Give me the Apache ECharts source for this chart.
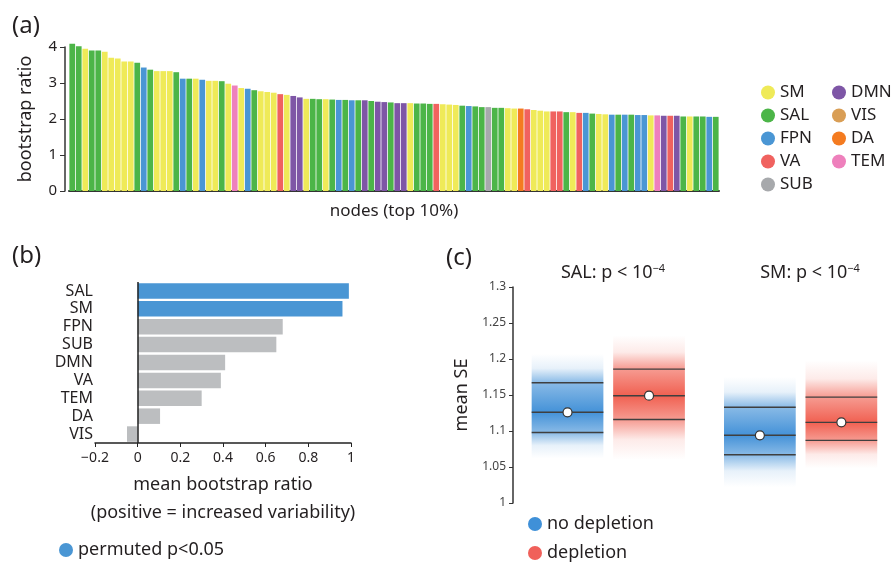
<!DOCTYPE html>
<html lang="en">
<head>
    <meta charset="UTF-8">
    <title>bootstrap ratio figure</title>
    <style>
        html, body { margin: 0; padding: 0; background: #fff; }
        #main { width: 896px; height: 562px; }
    </style>
</head>
<body>
<div id="main"></div>
<script src="https://cdn.jsdelivr.net/npm/echarts@6/dist/echarts.min.js"></script>
<script type="text/javascript">
// (a) top 10% nodes, sorted by bootstrap ratio
var nodeValues = [4.09, 4.02, 3.95, 3.90, 3.90, 3.87, 3.70, 3.68, 3.60, 3.60,
    3.56, 3.43, 3.37, 3.33, 3.33, 3.33, 3.30, 3.12, 3.12, 3.12,
    3.09, 3.06, 3.06, 3.05, 2.98, 2.93, 2.86, 2.84, 2.80, 2.77,
    2.75, 2.73, 2.69, 2.67, 2.64, 2.60, 2.56, 2.56, 2.55, 2.55,
    2.54, 2.53, 2.53, 2.52, 2.52, 2.52, 2.50, 2.48, 2.47, 2.46,
    2.44, 2.44, 2.44, 2.43, 2.43, 2.42, 2.42, 2.41, 2.40, 2.39,
    2.37, 2.36, 2.35, 2.33, 2.33, 2.31, 2.31, 2.30, 2.29, 2.29,
    2.27, 2.25, 2.23, 2.21, 2.21, 2.21, 2.19, 2.19, 2.17, 2.17,
    2.15, 2.14, 2.13, 2.12, 2.12, 2.12, 2.12, 2.11, 2.11, 2.10,
    2.10, 2.09, 2.09, 2.09, 2.07, 2.07, 2.07, 2.07, 2.06, 2.06];
var nodeNetworks = ['SAL', 'SAL', 'SM', 'SAL', 'SAL', 'SM', 'SM', 'SM', 'SM', 'SM',
    'SAL', 'FPN', 'SAL', 'SM', 'SM', 'SM', 'SAL', 'FPN', 'SAL', 'SM',
    'FPN', 'SM', 'SM', 'SAL', 'SM', 'TEM', 'SM', 'FPN', 'SAL', 'SM',
    'SM', 'SM', 'VA', 'SM', 'DMN', 'DMN', 'SM', 'SAL', 'SAL', 'SM',
    'SAL', 'FPN', 'SAL', 'FPN', 'SAL', 'DMN', 'SAL', 'DMN', 'DMN', 'SAL',
    'DMN', 'DMN', 'SM', 'SAL', 'SAL', 'SAL', 'VA', 'SM', 'SM', 'SM',
    'SAL', 'FPN', 'SAL', 'SAL', 'SUB', 'SAL', 'SAL', 'SM', 'SM', 'DA',
    'VA', 'SM', 'SM', 'SM', 'VA', 'VA', 'SAL', 'SM', 'VA', 'FPN',
    'SAL', 'SM', 'SM', 'FPN', 'SAL', 'FPN', 'SAL', 'FPN', 'FPN', 'SM',
    'TEM', 'DMN', 'VA', 'DMN', 'SAL', 'SM', 'SAL', 'SAL', 'FPN', 'SAL'];
var networkNames = ['SM', 'SAL', 'FPN', 'VA', 'SUB', 'DMN', 'VIS', 'DA', 'TEM'];

// (b) mean bootstrap ratio per network
var netCats = ['SAL', 'SM', 'FPN', 'SUB', 'DMN', 'VA', 'TEM', 'DA', 'VIS'];
var netMeans = [0.99, 0.96, 0.68, 0.65, 0.41, 0.39, 0.30, 0.105, -0.05];
var netSignificant = [true, true, false, false, false, false, false, false, false];

// (c) mean SE distributions: [SAL, SM]
var cGroups = ['SAL', 'SM'];
var noDepMean = [1.126, 1.094];
var noDepCiLow = [1.098, 1.067];
var noDepCiHigh = [1.167, 1.133];
var noDepLow = [1.062, 1.022];
var noDepHigh = [1.207, 1.175];
var depMean = [1.149, 1.112];
var depCiLow = [1.116, 1.087];
var depCiHigh = [1.186, 1.147];
var depLow = [1.060, 1.048];
var depHigh = [1.233, 1.198];

var FONT = 'Noto Sans';
var TXT = '#231f20';
var netColors = {
    SM: '#efea58', SAL: '#4cb548', FPN: '#4a96d4', VA: '#f0625f', SUB: '#a7a9ac',
    DMN: '#7e56a6', VIS: '#d99e55', DA: '#f47b20', TEM: '#ee80bc'
};
var blue = '#4a96d4', gray = '#bcbec0';

var chart = echarts.init(document.getElementById('main'));

// panel a: one overlapping bar series per network
var aSeries = networkNames.map(function (n) {
    return {
        type: 'bar', name: n, xAxisIndex: 0, yAxisIndex: 0,
        barWidth: '88%', barGap: '-100%', clip: false,
        itemStyle: {color: netColors[n]},
        data: nodeValues.map(function (v, i) { return nodeNetworks[i] === n ? v : '-'; })
    };
});

// panel c: gradient bands
var cGroupX = [1.5, 3.86];
function cData(mean, lo, hi, eLo, eHi, off) {
    return cGroups.map(function (g, i) {
        return [cGroupX[i] + off, mean[i], lo[i], hi[i], eLo[i], eHi[i]];
    });
}
function bandRenderer(rgb) {
    return function (params, api) {
        var x = api.value(0);
        var top = api.coord([x, api.value(5)]);
        var bot = api.coord([x, api.value(4)]);
        var yHi = api.coord([x, api.value(3)])[1];
        var yLo = api.coord([x, api.value(2)])[1];
        var yM = api.coord([x, api.value(1)])[1];
        var half = api.size([0.44, 0])[0];
        var h = bot[1] - top[1];
        var f = function (y) { return (y - top[1]) / h; };
        var c = function (a) { return 'rgba(' + rgb + ',' + a + ')'; };
        var fill = {
            type: 'linear', x: 0, y: 0, x2: 0, y2: 1,
            colorStops: [
                {offset: 0, color: c(0)},
                {offset: f(yHi) / 2, color: c(0.12)},
                {offset: f(yHi), color: c(0.6)},
                {offset: f(yM), color: c(0.95)},
                {offset: f(yLo), color: c(0.6)},
                {offset: (1 + f(yLo)) / 2, color: c(0.12)},
                {offset: 1, color: c(0)}
            ]
        };
        var ln = function (y) {
            return {type: 'line', shape: {x1: top[0] - half, y1: y, x2: top[0] + half, y2: y},
                style: {stroke: '#3f3f3f', lineWidth: 1.4}};
        };
        return {
            type: 'group',
            children: [
                {type: 'rect', shape: {x: top[0] - half, y: top[1], width: half * 2, height: h}, style: {fill: fill}},
                ln(yHi), ln(yM), ln(yLo),
                {type: 'circle', shape: {cx: top[0], cy: yM, r: 4.5}, style: {fill: '#fff', stroke: '#333', lineWidth: 1.2}}
            ]
        };
    };
}

function legendAt(left, top, names, size, gap) {
    return {
        left: left, top: top, orient: 'vertical', itemGap: gap, itemWidth: 14, itemHeight: 14,
        icon: 'circle', selectedMode: false, data: names,
        textStyle: {fontFamily: FONT, fontSize: size, color: TXT}
    };
}

var option = {
    animation: false,
    backgroundColor: '#fff',
    textStyle: {fontFamily: FONT},
    grid: [
        {left: 69, right: 177, top: 47, bottom: 371},
        {left: 95, right: 545, top: 282, bottom: 119},
        {left: 513, right: 16, top: 287, bottom: 59}
    ],
    xAxis: [
        {
            gridIndex: 0, type: 'category', data: nodeValues.map(function (v, i) { return i + 1; }),
            axisLine: {lineStyle: {color: '#333', width: 2}}, axisTick: {show: false}, axisLabel: {show: false},
            name: 'nodes (top 10%)', nameLocation: 'middle', nameGap: 12,
            nameTextStyle: {fontFamily: FONT, fontSize: 17, color: TXT}
        },
        {
            gridIndex: 1, type: 'value', min: -0.2, max: 1, interval: 0.2,
            splitLine: {show: false},
            axisLine: {show: true, onZero: false, lineStyle: {color: '#222', width: 1.5}},
            axisTick: {show: true, length: 4, lineStyle: {color: '#222'}},
            axisLabel: {fontFamily: FONT, fontSize: 14, color: TXT, margin: 8,
                formatter: function (v) { return String(+v.toFixed(1)).replace('-', '\u2212'); }},
            name: 'mean bootstrap ratio\n(positive = increased variability)', nameLocation: 'middle', nameGap: 28,
            nameTextStyle: {fontFamily: FONT, fontSize: 18, color: TXT, lineHeight: 28}
        },
        {gridIndex: 2, type: 'value', min: 0.331, max: 4.834, show: false}
    ],
    yAxis: [
        {
            gridIndex: 0, type: 'value', min: 0, max: 4, interval: 1, offset: 4,
            splitLine: {show: false},
            axisLine: {show: true, lineStyle: {color: '#333', width: 1.5}},
            axisTick: {show: true, length: 5, lineStyle: {color: '#333'}},
            axisLabel: {fontFamily: FONT, fontSize: 15, color: TXT, margin: 8},
            name: 'bootstrap ratio', nameLocation: 'middle', nameGap: 30,
            nameTextStyle: {fontFamily: FONT, fontSize: 18, color: TXT}
        },
        {
            gridIndex: 1, type: 'category', inverse: true, data: netCats,
            axisLine: {show: false}, axisTick: {show: false},
            axisLabel: {interval: 0, fontFamily: FONT, fontSize: 16, color: TXT, margin: 2, lineHeight: 16}
        },
        {
            gridIndex: 2, type: 'value', min: 1, max: 1.3, interval: 0.05,
            splitLine: {show: false},
            axisLine: {show: true, lineStyle: {color: '#333', width: 1.5}},
            axisTick: {show: true, length: 4, lineStyle: {color: '#333'}},
            axisLabel: {fontFamily: FONT, fontSize: 12, color: '#444', margin: 7},
            name: 'mean SE', nameLocation: 'middle', nameGap: 42,
            nameTextStyle: {fontFamily: FONT, fontSize: 18, color: TXT}
        }
    ],
    legend: [
        legendAt(756, 79, ['SM', 'SAL', 'FPN', 'VA', 'SUB'], 17, 6),
        legendAt(827, 79, ['DMN', 'VIS', 'DA', 'TEM'], 17, 6),
        legendAt(54, 536, ['permuted p<0.05'], 18, 6),
        legendAt(523, 510, ['no depletion'], 18, 6),
        legendAt(523, 539, ['depletion'], 18, 6)
    ],
    graphic: [
        {type: 'text', left: 12, top: 14, style: {text: '(a)', fontFamily: FONT, fontSize: 24, fill: TXT}},
        {type: 'text', left: 12, top: 244, style: {text: '(b)', fontFamily: FONT, fontSize: 24, fill: TXT}},
        {type: 'text', left: 446, top: 246, style: {text: '(c)', fontFamily: FONT, fontSize: 24, fill: TXT}},
        {type: 'text', x: 613, y: 273, style: {
            text: 'SAL: p < 10{s|\u22124}', fontFamily: FONT, fontSize: 18, fill: TXT,
            align: 'center', verticalAlign: 'middle',
            rich: {s: {fontFamily: FONT, fontSize: 11, fill: TXT, verticalAlign: 'top', padding: [0, 0, 8, 0]}}}},
        {type: 'text', x: 810, y: 273, style: {
            text: 'SM: p < 10{s|\u22124}', fontFamily: FONT, fontSize: 18, fill: TXT,
            align: 'center', verticalAlign: 'middle',
            rich: {s: {fontFamily: FONT, fontSize: 11, fill: TXT, verticalAlign: 'top', padding: [0, 0, 8, 0]}}}}
    ],
    series: aSeries.concat([
        {
            type: 'bar', name: 'permuted p<0.05', xAxisIndex: 1, yAxisIndex: 1,
            barWidth: 15.5, barGap: '-100%', itemStyle: {color: blue},
            data: netMeans.map(function (v, i) { return netSignificant[i] ? v : '-'; }),
            markLine: {
                silent: true, symbol: 'none', label: {show: false},
                lineStyle: {color: '#222', width: 1.5, type: 'solid'},
                data: [{xAxis: 0}]
            }
        },
        {
            type: 'bar', name: 'n.s.', xAxisIndex: 1, yAxisIndex: 1,
            barWidth: 15.5, barGap: '-100%', itemStyle: {color: gray},
            data: netMeans.map(function (v, i) { return netSignificant[i] ? '-' : v; })
        },
        {
            type: 'custom', name: 'no depletion', xAxisIndex: 2, yAxisIndex: 2,
            itemStyle: {color: '#3f90d8'},
            renderItem: bandRenderer('58,140,214'),
            data: cData(noDepMean, noDepCiLow, noDepCiHigh, noDepLow, noDepHigh, -0.5)
        },
        {
            type: 'custom', name: 'depletion', xAxisIndex: 2, yAxisIndex: 2,
            itemStyle: {color: '#f0605a'},
            renderItem: bandRenderer('240,88,72'),
            data: cData(depMean, depCiLow, depCiHigh, depLow, depHigh, 0.5)
        }
    ])
};
chart.setOption(option);
</script>
</body>
</html>
